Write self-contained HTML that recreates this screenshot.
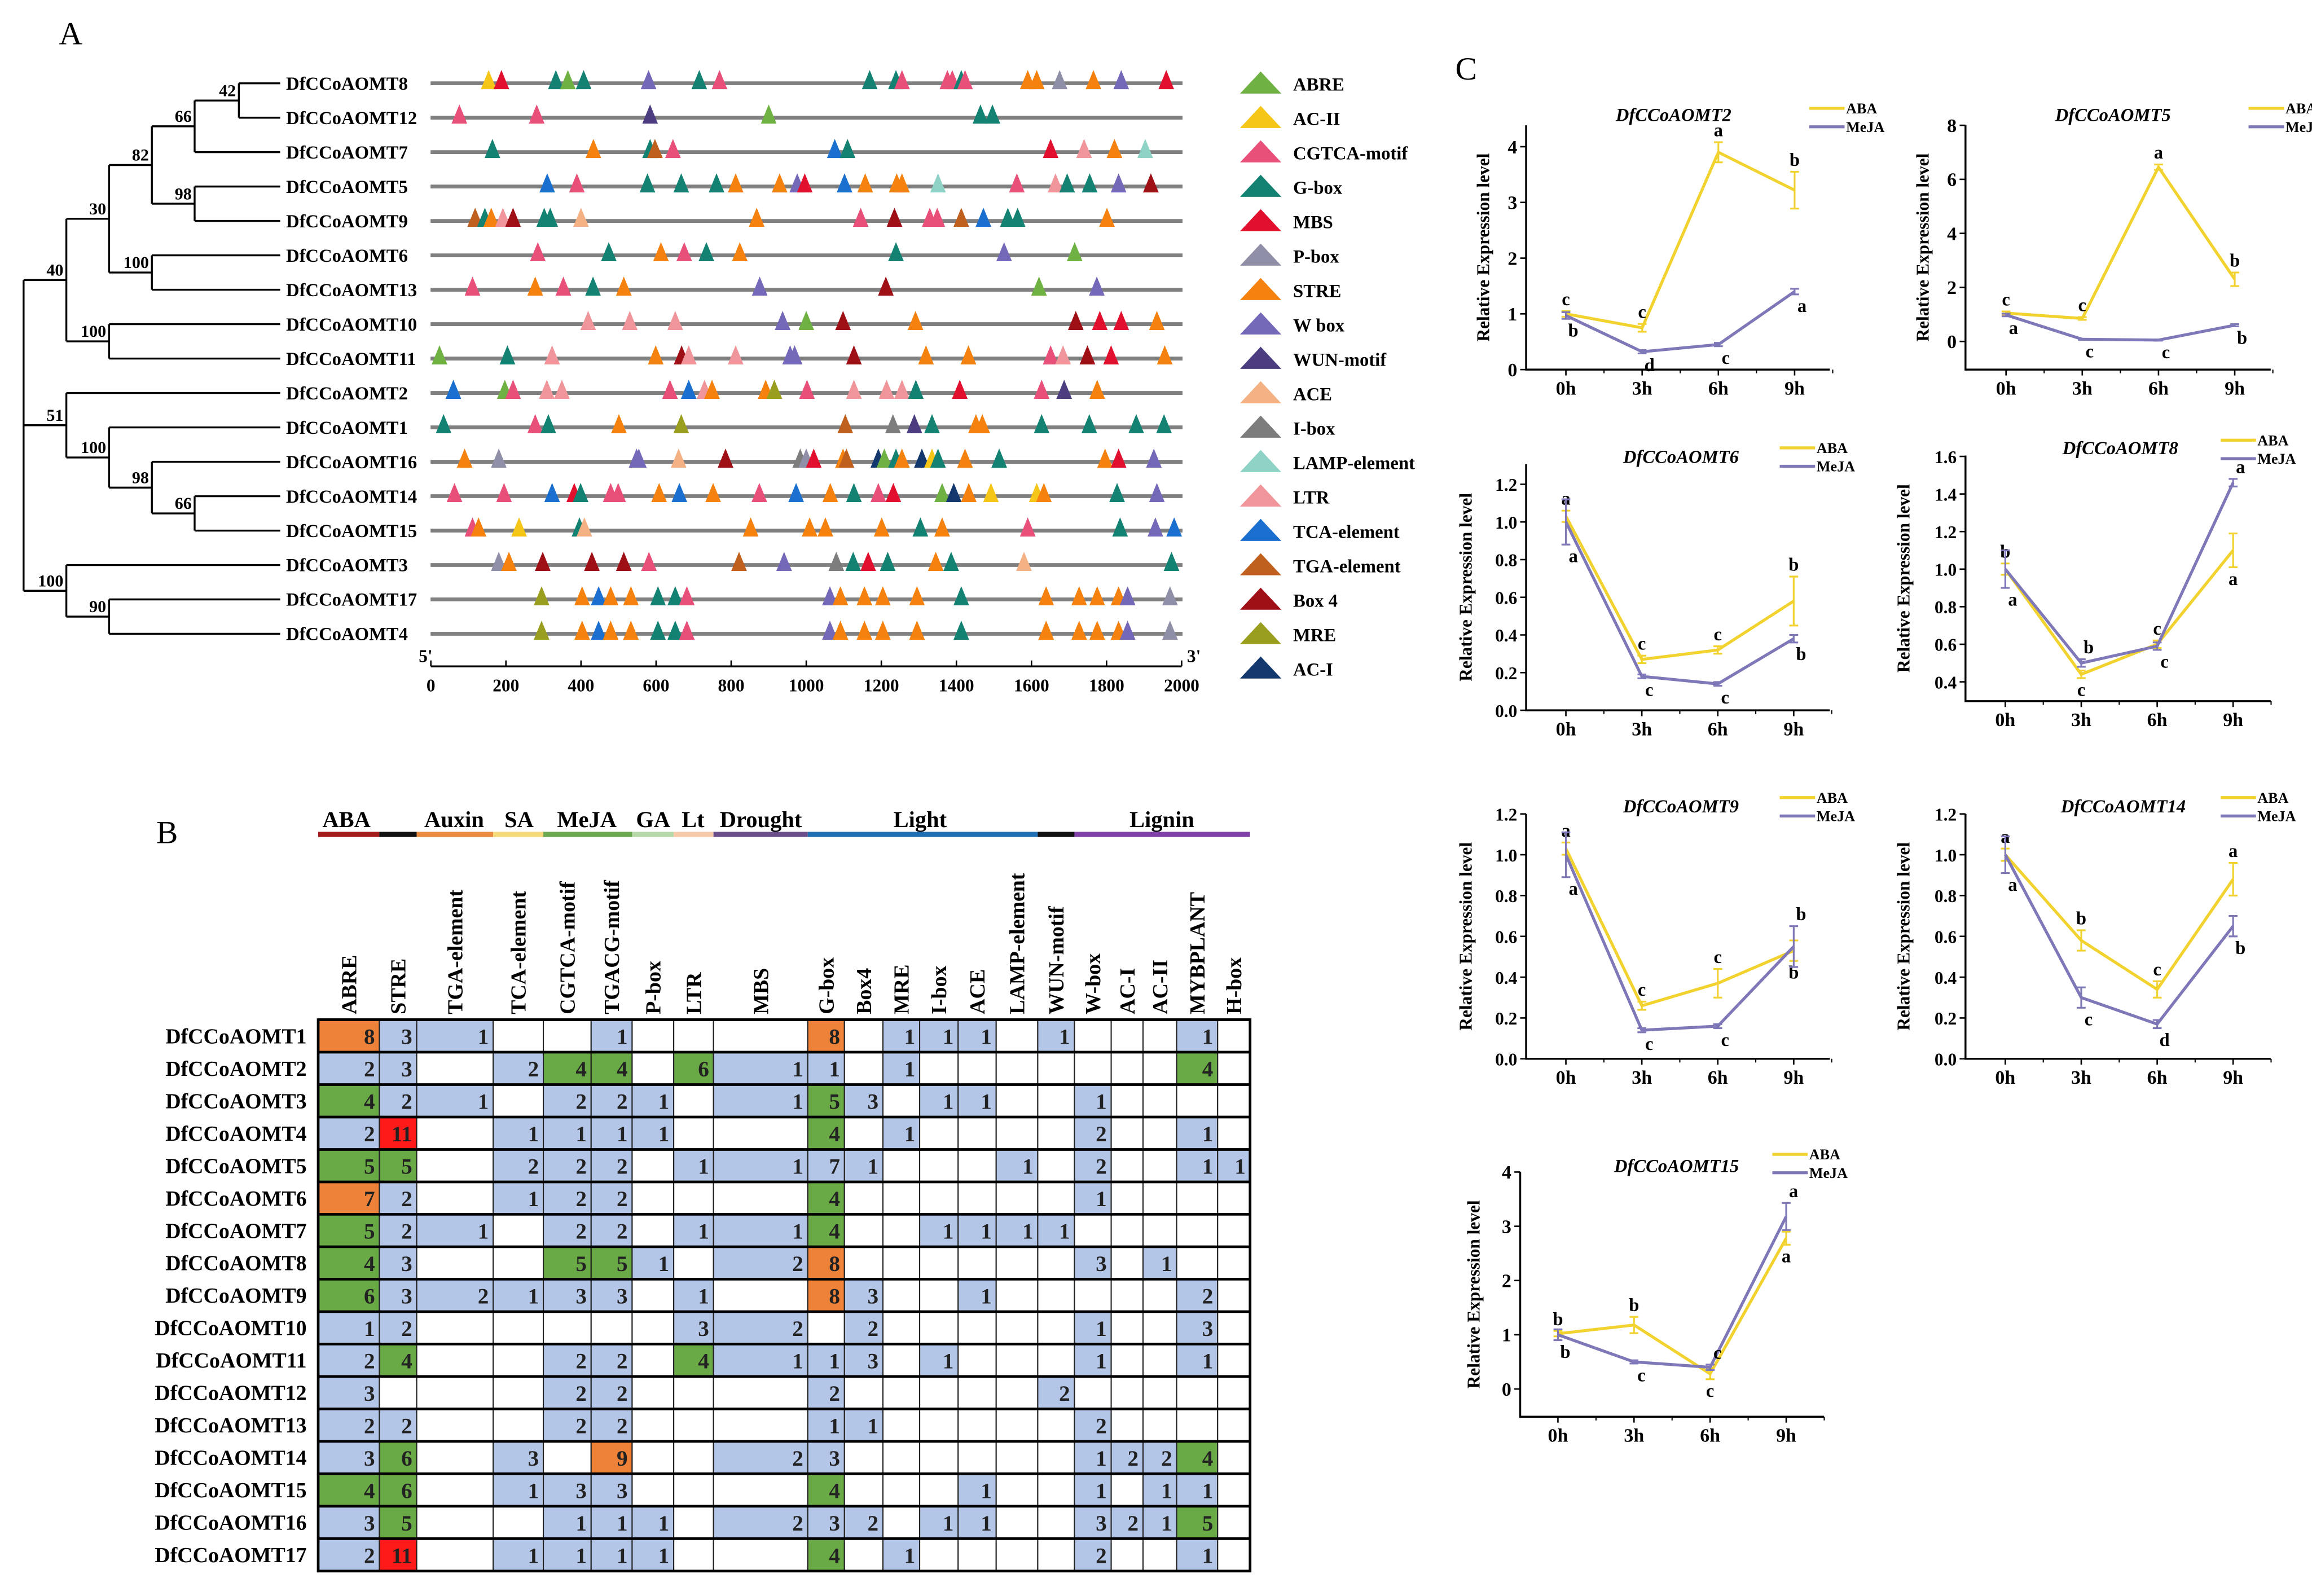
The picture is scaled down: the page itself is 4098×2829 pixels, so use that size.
<!DOCTYPE html>
<html><head><meta charset="utf-8"><style>
html,body{margin:0;padding:0;background:#fff}
svg{display:block}
text{font-family:"Liberation Serif",serif}
</style></head><body>
<svg id="fig" xmlns="http://www.w3.org/2000/svg" width="4098" height="2829" viewBox="0 0 1568 1082.6" preserveAspectRatio="none">
<rect x="0" y="0" width="1568" height="1082.6" fill="#fff"/>
<text x="40" y="30" font-size="22">A</text>
<text x="106" y="572" font-size="22">B</text>
<text x="987" y="54" font-size="22">C</text>
<g id="pa"></g>
<g id="pb"></g>
<g id="pc"></g>
</svg>
<script>
const NS="http://www.w3.org/2000/svg";
function mk(p,tag,at,txt){const e=document.createElementNS(NS,tag);for(const k in at)e.setAttribute(k,at[k]);if(txt!==undefined)e.textContent=txt;p.appendChild(e);return e;}

/* ---------- Panel A data ---------- */
const motifNames=["ABRE","AC-II","CGTCA-motif","G-box","MBS","P-box","STRE","W box","WUN-motif","ACE","I-box","LAMP-element","LTR","TCA-element","TGA-element","Box 4","MRE","AC-I"];
const motifColors=["#6fb143","#f5c518","#e8507a","#138272","#e0102e","#8f8fa8","#f5820f","#7468b8","#4c3d80","#f3b184","#7d7d7d","#8fd3c6","#f0959a","#1a6fcf","#c0601e","#9e0f16","#9a9e1e","#13386e"];
const genes=["DfCCoAOMT8","DfCCoAOMT12","DfCCoAOMT7","DfCCoAOMT5","DfCCoAOMT9","DfCCoAOMT6","DfCCoAOMT13","DfCCoAOMT10","DfCCoAOMT11","DfCCoAOMT2","DfCCoAOMT1","DfCCoAOMT16","DfCCoAOMT14","DfCCoAOMT15","DfCCoAOMT3","DfCCoAOMT17","DfCCoAOMT4"];
// [position bp, motif index]
const sites=[
[[154,1],[188,4],[333,3],[365,0],[407,3],[580,7],[715,3],[769,2],[1169,3],[1239,3],[1255,2],[1376,2],[1389,2],[1413,3],[1423,2],[1590,6],[1614,6],[1675,5],[1765,6],[1839,7],[1959,4]],
[[76,2],[282,2],[584,8],[900,0],[1464,3],[1496,3]],
[[164,3],[433,6],[584,3],[597,14],[645,2],[1076,13],[1110,3],[1651,4],[1740,12],[1821,6],[1903,11]],
[[310,13],[389,2],[577,3],[667,3],[761,3],[812,6],[929,6],[976,7],[996,4],[1102,13],[1157,6],[1241,6],[1255,6],[1351,11],[1561,2],[1664,12],[1695,3],[1755,3],[1832,7],[1918,15]],
[[118,14],[144,3],[161,6],[192,12],[219,15],[302,3],[318,3],[400,9],[868,6],[1145,2],[1235,15],[1329,2],[1349,2],[1413,14],[1472,13],[1537,3],[1563,3],[1801,6]],
[[285,2],[474,3],[613,6],[675,2],[734,3],[823,6],[1239,3],[1527,7],[1715,0]],
[[111,2],[278,6],[353,2],[432,3],[514,6],[876,7],[1212,15],[1620,0],[1774,7]],
[[419,12],[530,12],[651,12],[937,7],[1000,0],[1098,15],[1291,6],[1718,15],[1782,4],[1839,4],[1934,6]],
[[23,0],[204,3],[323,12],[599,6],[668,15],[687,12],[812,12],[957,7],[969,7],[1127,15],[1319,6],[1432,6],[1651,2],[1684,12],[1749,15],[1812,4],[1955,6]],
[[60,13],[197,0],[219,2],[309,12],[349,12],[637,2],[687,13],[729,12],[749,6],[892,6],[915,16],[1002,2],[1127,12],[1214,12],[1255,12],[1292,3],[1409,4],[1627,2],[1687,8],[1775,6]],
[[34,3],[278,2],[313,3],[501,6],[667,16],[1104,14],[1231,10],[1288,8],[1335,3],[1452,6],[1469,6],[1627,3],[1754,3],[1879,3],[1953,3]],
[[90,6],[181,5],[548,7],[554,7],[660,9],[785,15],[984,10],[1000,5],[1020,4],[1098,6],[1107,14],[1192,17],[1208,0],[1239,3],[1255,6],[1308,17],[1335,1],[1351,3],[1423,6],[1514,3],[1796,6],[1832,4],[1926,7]],
[[63,2],[195,2],[323,13],[382,4],[399,3],[479,2],[499,2],[608,6],[662,13],[752,6],[875,2],[973,13],[1064,6],[1127,3],[1192,2],[1232,4],[1362,0],[1393,17],[1433,6],[1492,1],[1614,1],[1633,6],[1828,3],[1934,7]],
[[111,2],[127,6],[235,1],[396,3],[409,9],[852,6],[1009,6],[1051,6],[1201,6],[1304,3],[1362,6],[1590,2],[1836,3],[1930,7],[1980,13]],
[[181,5],[208,6],[298,15],[429,15],[514,15],[581,2],[821,14],[941,7],[1080,10],[1125,3],[1165,4],[1217,3],[1345,6],[1386,3],[1580,9],[1973,3]],
[[295,16],[403,6],[447,13],[479,6],[533,6],[605,3],[651,3],[682,2],[1063,7],[1091,6],[1155,6],[1204,6],[1295,6],[1413,3],[1639,6],[1727,6],[1775,6],[1832,6],[1856,7],[1969,5]],
[[295,16],[403,6],[447,13],[479,6],[533,6],[605,3],[651,3],[682,2],[1063,7],[1091,6],[1155,6],[1204,6],[1295,6],[1413,3],[1639,6],[1727,6],[1775,6],[1832,6],[1856,7],[1969,5]]
];
const axisTicks=[0,200,400,600,800,1000,1200,1400,1600,1800,2000];

(function(){
 const g=document.getElementById('pa');
 const X=bp=>292.2+bp*(801.4-292.2)/2000;
 const rowY=i=>56.5+i*23.34;
 const T=mk(g,'g',{stroke:'#000','stroke-width':1.3,fill:'none'});
 
 
 function H(x1,x2,y){mk(T,'line',{x1:x1,x2:x2,y1:y,y2:y});}
 function V(x,y1,y2){mk(T,'line',{x1:x,x2:x,y1:y1,y2:y2});}
 const r=rowY;
 const n42=(r(0)+r(1))/2, n66=(n42+r(2))/2, n98a=(r(3)+r(4))/2, n82=(n66+n98a)/2;
 const n100a=(r(5)+r(6))/2, n30=(n82+n100a)/2, n100b=(r(7)+r(8))/2, n40=(n30+n100b)/2;
 const n66b=(r(12)+r(13))/2, n98b=(r(11)+n66b)/2, n100c=(r(10)+n98b)/2, n51=(r(9)+n100c)/2;
 const n90=(r(15)+r(16))/2, nR100=(r(14)+n90)/2;
 H(162,190,r(0));H(162,190,r(1));H(132,190,r(2));H(132,190,r(3));H(132,190,r(4));
 H(103,190,r(5));H(103,190,r(6));H(74,190,r(7));H(74,190,r(8));H(45,190,r(9));
 H(74,190,r(10));H(103,190,r(11));H(132,190,r(12));H(132,190,r(13));H(45,190,r(14));
 H(74,190,r(15));H(74,190,r(16));
 V(162,r(0),r(1));H(132,162,n42);V(132,n42,r(2));H(103,132,n66);
 V(132,r(3),r(4));H(103,132,n98a);V(103,n66,n98a);H(74,103,n82);
 V(103,r(5),r(6));H(74,103,n100a);V(74,n82,n100a);H(45,74,n30);
 V(74,r(7),r(8));H(45,74,n100b);V(45,n30,n100b);H(16,45,n40);
 V(132,r(12),r(13));H(103,132,n66b);V(103,r(11),n66b);H(74,103,n98b);
 V(74,r(10),n98b);H(45,74,n100c);V(45,r(9),n100c);H(16,45,n51);
 V(74,r(15),r(16));H(45,74,n90);V(45,r(14),n90);H(16,45,nR100);
 V(16,n40,nR100);
 const boots=[["42",160,n42],["66",130,n66],["98",130,n98a],["82",101,n82],["100",101,n100a],["30",72,n30],["100",72,n100b],["40",43,n40],
 ["66",130,n66b],["98",101,n98b],["100",72,n100c],["51",43,n51],["90",72,n90],["100",43,nR100]];
 boots.forEach(b=>{const t=mk(g,'text',{x:b[1],y:b[2]-3,'font-size':11.5,'font-weight':'bold','text-anchor':'end'},b[0]);
  
  });
 genes.forEach((gn,i)=>{
  const y=rowY(i);
  const t=mk(g,'text',{x:194,y:y+4.3,'font-size':12.5,'font-weight':'bold'},gn);
  
  
  const l=mk(g,'line',{x1:292,x2:802,y1:y,y2:y,stroke:'#808080','stroke-width':2.6});
  
  
  sites[i].forEach(s=>{
   const x=X(s[0]);
   const p=mk(g,'polygon',{points:`${x-5.3},${y+4} ${x+5.3},${y+4} ${x},${y-9}`,fill:motifColors[s[1]]});
   
   
  });
 });
 const ay=452;
 const ax=mk(g,'line',{x1:292.2,x2:801.4,y1:ay,y2:ay,stroke:'#000','stroke-width':1.3});
 
 
 axisTicks.forEach(v=>{mk(g,'line',{x1:X(v),x2:X(v),y1:ay,y2:ay-4,stroke:'#000','stroke-width':1});
  const t=mk(g,'text',{x:X(v),y:ay+17,'font-size':12,'font-weight':'bold','text-anchor':'middle'},String(v));
  
  });
 mk(g,'text',{x:284,y:ay-3,'font-size':12,'font-weight':'bold'},"5'");
 mk(g,'text',{x:805,y:ay-3,'font-size':12,'font-weight':'bold'},"3'");
 motifNames.forEach((m,i)=>{
  const y=rowY(i)+3;
  const p=mk(g,'polygon',{points:`841,${y+4} 869,${y+4} 855,${y-11}`,fill:motifColors[i]});
  
  
  const t=mk(g,'text',{x:877,y:y+2,'font-size':12.5,'font-weight':'bold'},m);
  
  
 });
})();

/* ---------- Panel B data ---------- */
const elemNames=["ABRE","STRE","TGA-element","TCA-element","CGTCA-motif","TGACG-motif","P-box","LTR","MBS","G-box","Box4","MRE","I-box","ACE","LAMP-element","WUN-motif","W-box","AC-I","AC-II","MYBPLANT","H-box"];
const tableGenes=["DfCCoAOMT1","DfCCoAOMT2","DfCCoAOMT3","DfCCoAOMT4","DfCCoAOMT5","DfCCoAOMT6","DfCCoAOMT7","DfCCoAOMT8","DfCCoAOMT9","DfCCoAOMT10","DfCCoAOMT11","DfCCoAOMT12","DfCCoAOMT13","DfCCoAOMT14","DfCCoAOMT15","DfCCoAOMT16","DfCCoAOMT17"];
const counts=[
[8,3,1,0,0,1,0,0,0,8,0,1,1,1,0,1,0,0,0,1,0],
[2,3,0,2,4,4,0,6,1,1,0,1,0,0,0,0,0,0,0,4,0],
[4,2,1,0,2,2,1,0,1,5,3,0,1,1,0,0,1,0,0,0,0],
[2,11,0,1,1,1,1,0,0,4,0,1,0,0,0,0,2,0,0,1,0],
[5,5,0,2,2,2,0,1,1,7,1,0,0,0,1,0,2,0,0,1,1],
[7,2,0,1,2,2,0,0,0,4,0,0,0,0,0,0,1,0,0,0,0],
[5,2,1,0,2,2,0,1,1,4,0,0,1,1,1,1,0,0,0,0,0],
[4,3,0,0,5,5,1,0,2,8,0,0,0,0,0,0,3,0,1,0,0],
[6,3,2,1,3,3,0,1,0,8,3,0,0,1,0,0,0,0,0,2,0],
[1,2,0,0,0,0,0,3,2,0,2,0,0,0,0,0,1,0,0,3,0],
[2,4,0,0,2,2,0,4,1,1,3,0,1,0,0,0,1,0,0,1,0],
[3,0,0,0,2,2,0,0,0,2,0,0,0,0,0,2,0,0,0,0,0],
[2,2,0,0,2,2,0,0,0,1,1,0,0,0,0,0,2,0,0,0,0],
[3,6,0,3,0,9,0,0,2,3,0,0,0,0,0,0,1,2,2,4,0],
[4,6,0,1,3,3,0,0,0,4,0,0,0,1,0,0,1,0,1,1,0],
[3,5,0,0,1,1,1,0,2,3,2,0,1,1,0,0,3,2,1,5,0],
[2,11,0,1,1,1,1,0,0,4,0,1,0,0,0,0,2,0,0,1,0]];
const groups=["ABA","","Auxin","SA","MeJA","GA","Lt","Drought","Light","","Lignin"];
const groupSpan=[[0,1],[1,2],[2,3],[3,4],[4,6],[6,7],[7,8],[8,9],[9,15],[15,16],[16,21]];
const groupColors=["#a31b1b","#111","#ea8a3c","#f5da7a","#6aa84f","#b6d7a8","#f6c9a8","#6a4f8a","#1f6fb5","#111","#8040a8"];

(function(){
 const g=document.getElementById('pb');
 const edges=[215.8,257.3,282.6,334.5,368.5,400.9,428.7,456.9,483.9,547.8,572.7,598.8,623.7,649.8,675.6,703.8,728.7,753.6,775.2,798,825.8,847.8];
 const top=691.7,rh=22.0;
 const fillFor=(v,j)=>{
  if(v===0)return '#fff';
  if(v>=11)return '#ff1a1a';
  if(v===7&&j===9)return '#b4c6e7';
  if(v>=7)return '#ee8239';
  if(v>=4)return '#6aaa46';
  return '#b4c6e7';
 };
 counts.forEach((row,i)=>{
  const y=top+i*rh;
  const t=mk(g,'text',{x:208,y:y+16,'font-size':14.5,'font-weight':'bold','text-anchor':'end'},tableGenes[i]);
  
  
  row.forEach((v,j)=>{
   const c=mk(g,'rect',{x:edges[j],y:y,width:edges[j+1]-edges[j],height:rh,fill:fillFor(v,j),stroke:'#222','stroke-width':0.8});
   
   
   if(v>0){const tt=mk(g,'text',{x:edges[j+1]-3,y:y+16.5,'font-size':15,'font-weight':'bold','text-anchor':'end',fill:'#222'},String(v));
    
    }
  });
  mk(g,'line',{x1:edges[0],x2:edges[21],y1:y,y2:y,stroke:'#000','stroke-width':1.8});
 });
 mk(g,'rect',{x:edges[0],y:top,width:edges[21]-edges[0],height:rh*17,fill:'none',stroke:'#000','stroke-width':1.8});
 elemNames.forEach((n,j)=>{
  const cx=(edges[j]+edges[j+1])/2+5;
  const t=mk(g,'text',{transform:`translate(${cx},688) rotate(-90)`,'font-size':14.5,'font-weight':'bold'},n);
  
  
 });
 groups.forEach((gn,k)=>{
  const x1=edges[groupSpan[k][0]],x2=edges[groupSpan[k][1]];
  const l=mk(g,'line',{x1:x1,x2:x2,y1:566,y2:566,stroke:groupColors[k],'stroke-width':3.5});
  
  
 });
 const gl=[["ABA",235],["Auxin",308],["SA",352],["MeJA",398],["GA",443],["Lt",470],["Drought",516],["Light",624],["Lignin",788]];
 gl.forEach(a=>{const t=mk(g,'text',{x:a[1],y:561,'font-size':15.5,'font-weight':'bold','text-anchor':'middle'},a[0]);
  
  });
})();

/* ---------- Panel C data ---------- */
const timeLabels=["0h","3h","6h","9h"];
const chartTitles=["DfCCoAOMT2","DfCCoAOMT5","DfCCoAOMT6","DfCCoAOMT8","DfCCoAOMT9","DfCCoAOMT14","DfCCoAOMT15"];
const abaValues=[[1.0,0.75,3.9,3.22],[1.05,0.85,6.45,2.3],[1.03,0.27,0.32,0.58],[1.0,0.44,0.6,1.1],[1.03,0.26,0.37,0.53],[1.0,0.58,0.34,0.88],[1.02,1.18,0.28,2.78]];
const mejaValues=[[0.97,0.32,0.45,1.4],[0.98,0.08,0.05,0.6],[1.0,0.18,0.14,0.38],[1.0,0.5,0.59,1.46],[1.0,0.14,0.16,0.55],[1.0,0.3,0.17,0.65],[1.0,0.5,0.4,3.18]];
const abaErr=[[0.05,0.07,0.18,0.33],[0.06,0.05,0.1,0.25],[0.03,0.02,0.02,0.13],[0.03,0.02,0.02,0.09],[0.03,0.02,0.07,0.05],[0.03,0.05,0.04,0.08],[0.05,0.15,0.1,0.12]];
const mejaErr=[[0.06,0.03,0.03,0.05],[0.05,0.02,0.02,0.04],[0.12,0.01,0.01,0.02],[0.1,0.02,0.02,0.02],[0.11,0.01,0.01,0.1],[0.09,0.05,0.02,0.05],[0.1,0.03,0.05,0.25]];
const abaLetters=[["c","c","a","b"],["c","c","a","b"],["a","c","c","b"],["b","c","c","a"],["a","c","c","b"],["a","b","c","a"],["b","b","c","a"]];
const mejaLetters=[["b","d","c","a"],["a","c","c","b"],["a","c","c","b"],["a","b","c","a"],["a","c","c","b"],["a","c","d","b"],["b","c","c","a"]];
const yTicks=[[0,1,2,3,4],[0,2,4,6,8],[0.0,0.2,0.4,0.6,0.8,1.0,1.2],[0.4,0.6,0.8,1.0,1.2,1.4,1.6],[0.0,0.2,0.4,0.6,0.8,1.0,1.2],[0.0,0.2,0.4,0.6,0.8,1.0,1.2],[0,1,2,3,4]];

(function(){
 const g=document.getElementById('pc');
 const L=[
  [1035,1062,51.7,0,250.7,4,99.5,85,250.7,1241,1135,82,1227,73.5,1010,0],
  [1333,1360.5,51.7,0,231.6,8,85,85,250.7,1540,1433,82,1525,73.5,1308,0],
  [1035,1062,51.5,0,481.8,1.2,328.5,314.8,481.8,1241,1140,314,1207,303.8,998,1],
  [1333,1360,51.5,0.4,462.5,1.6,309.6,309,475.6,1540,1438,308,1506,298.6,1295,1],
  [1035,1062,51.5,0,718.2,1.2,552.1,552.1,718.2,1241,1140,551,1207,541,998,1],
  [1333,1360,51.5,0,718.2,1.2,552.1,552.1,718.2,1540,1440,551,1506,541,1295,1],
  [1031,1056.6,51.6,0,942.2,4,795,795,961,1237,1137,795,1202,783,1003.5,0]];
 L.forEach((c,k)=>{
  const cg=mk(g,'g',{});
  
  
  const Y=v=>c[4]+(v-c[3])*(c[6]-c[4])/(c[5]-c[3]);
  const X=i=>c[1]+i*c[2];
  const ax=mk(cg,'path',{d:`M${c[0]},${c[7]} V${c[8]} H${c[9]}`,stroke:'#000','stroke-width':1.3,fill:'none'});
  
  
  yTicks[k].forEach(v=>{const y=Y(v);
   mk(cg,'line',{x1:c[0]-4,x2:c[0],y1:y,y2:y,stroke:'#000','stroke-width':1});
   const t=mk(cg,'text',{x:c[0]-6,y:y+4.5,'font-size':c[15]?12:13,'font-weight':'bold','text-anchor':'end'},c[15]?v.toFixed(1):String(v));
   
   });
  timeLabels.forEach((tl,i)=>{
   mk(cg,'line',{x1:X(i),x2:X(i),y1:c[8],y2:c[8]+4,stroke:'#000','stroke-width':1});
   mk(cg,'line',{x1:X(i)+c[2]/2,x2:X(i)+c[2]/2,y1:c[8],y2:c[8]+2.5,stroke:'#000','stroke-width':0.8});
   const t=mk(cg,'text',{x:X(i),y:c[8]+17,'font-size':13,'font-weight':'bold','text-anchor':'middle'},tl);
   
   });
  const midY=(c[7]+c[8])/2;
  const yl=mk(cg,'text',{transform:`translate(${c[14]},${midY}) rotate(-90)`,'font-size':12,'font-weight':'bold','text-anchor':'middle'},'Relative Expression level');
  
  
  const ti=mk(cg,'text',{x:c[10],y:c[11],'font-size':12.5,'font-weight':'bold','font-style':'italic','text-anchor':'middle'},chartTitles[k]);
  
  
  const ser=[[abaValues[k],abaErr[k],abaLetters[k],'#f2d22e','ABA'],[mejaValues[k],mejaErr[k],mejaLetters[k],'#7f78b8','MeJA']];
  ser.forEach((s,si)=>{
   const pts=s[0].map((v,i)=>X(i)+','+Y(v)).join(' ');
   const pl=mk(cg,'polyline',{points:pts,fill:'none',stroke:s[3],'stroke-width':2});
   
   
   s[0].forEach((v,i)=>{
    const e=s[1][i],x=X(i);
    const eb=mk(cg,'path',{d:`M${x},${Y(v+e)} V${Y(v-e)} M${x-3},${Y(v+e)} H${x+3} M${x-3},${Y(v-e)} H${x+3}`,stroke:s[3],'stroke-width':1.2,fill:'none'});
    
    
    const other=ser[1-si][0][i];
    let ly,lx=x;
    if(si===0){ly=v>=other?Y(v+e)-4:Y(v-e)+12;}
    else{lx=x+5;ly=v>other?Y(v+e)-4:Y(v-e)+12;}
    const lt=mk(cg,'text',{x:lx,y:ly,'font-size':12.5,'font-weight':'bold','text-anchor':'middle'},s[2][i]);
    
    
   });
   const ly=c[13]+si*12.5;
   const ll=mk(cg,'line',{x1:c[12],x2:c[12]+24,y1:ly,y2:ly,stroke:s[3],'stroke-width':2});
   
   
   const lt=mk(cg,'text',{x:c[12]+25,y:ly+3.5,'font-size':10,'font-weight':'bold'},s[4]);
   
   
  });
 });
})();
</script>
</body></html>
